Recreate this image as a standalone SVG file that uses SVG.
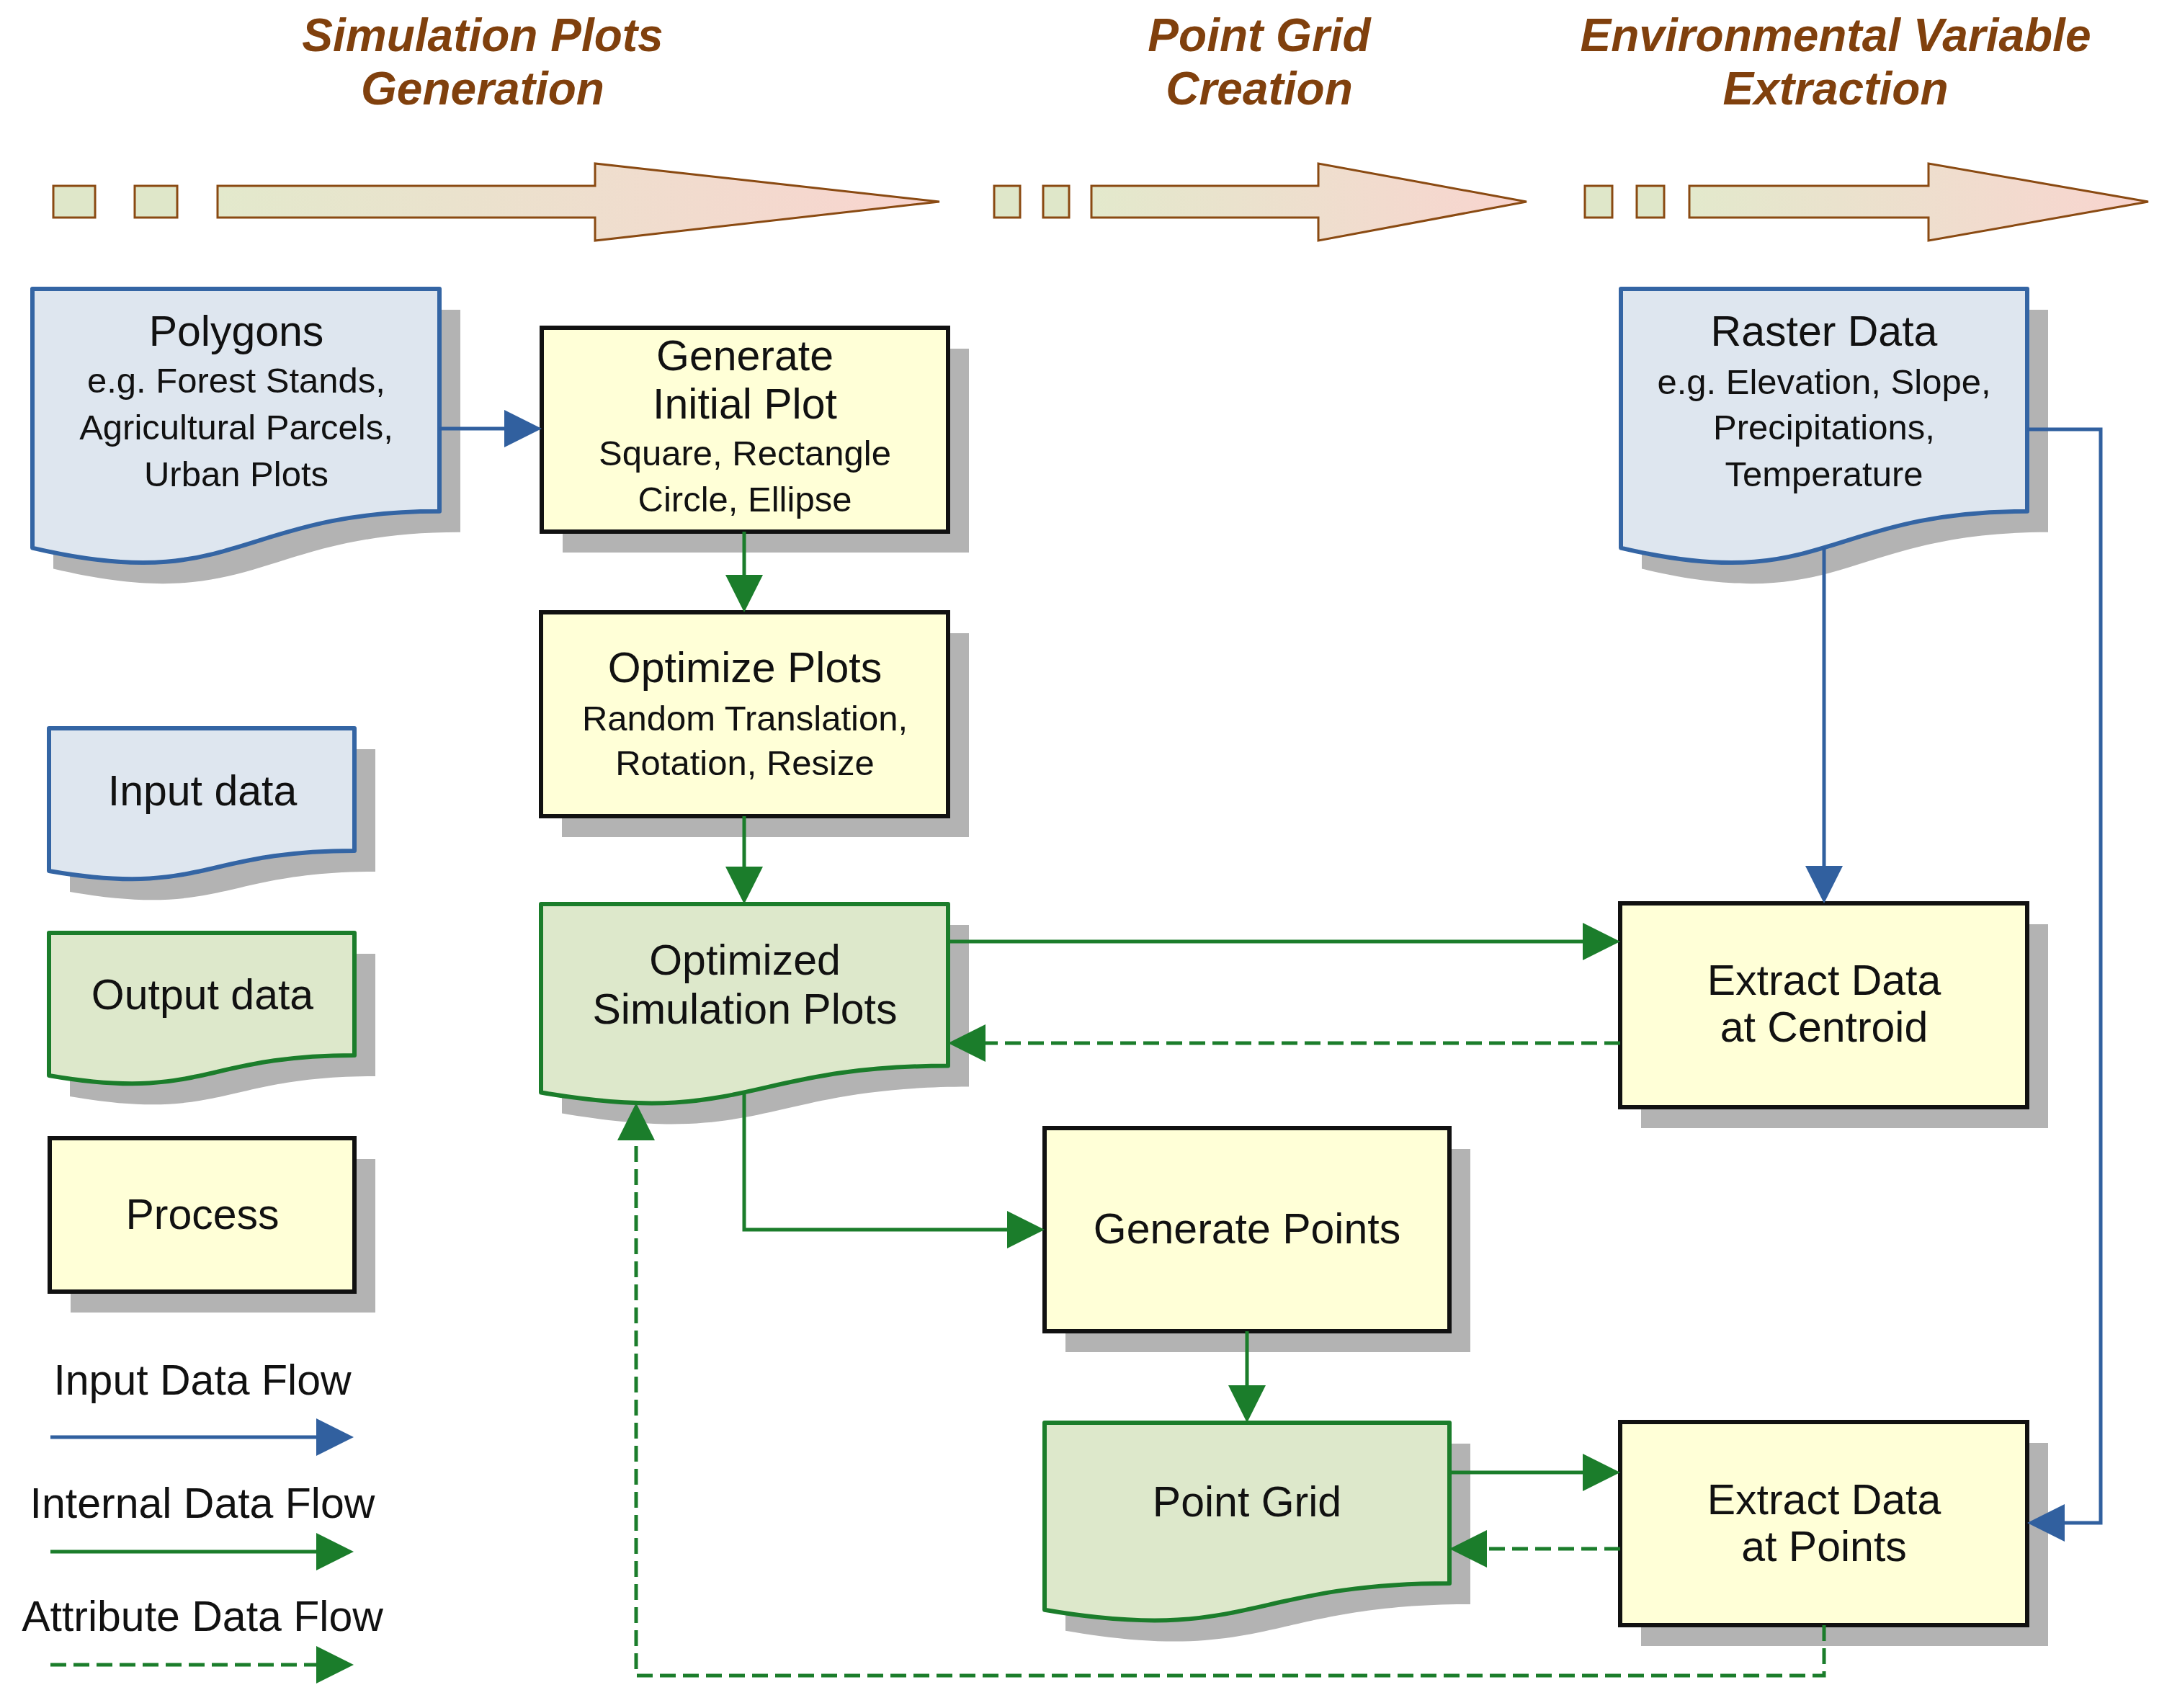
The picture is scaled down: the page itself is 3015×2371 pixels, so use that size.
<svg xmlns="http://www.w3.org/2000/svg" width="3015" height="2371" viewBox="0 0 3015 2371">
<style>
.title{font-family:"Liberation Sans",Arial,sans-serif;font-weight:bold;font-style:italic;font-size:64px;fill:#80400d;text-anchor:middle}
.main{font-family:"Liberation Sans",Arial,sans-serif;font-size:59px;fill:#111;text-anchor:middle}
.sub{font-family:"Liberation Sans",Arial,sans-serif;font-size:49px;fill:#111;text-anchor:middle}
.shadow{fill:#b3b3b3}
.proc{fill:#ffffd7;stroke:#111;stroke-width:6}
.indoc{fill:#dee6ef;stroke:#3465a4;stroke-width:6;stroke-linejoin:round}
.outdoc{fill:#dde8cb;stroke:#1b7d2b;stroke-width:6;stroke-linejoin:round}
.sq{fill:#dfe7c9;stroke:#8a4a12;stroke-width:3}
.big{fill:url(#phase);stroke:#8a4a12;stroke-width:3;stroke-linejoin:miter}
.blue{fill:none;stroke:#31609f;stroke-width:5;marker-end:url(#ahb)}
.green{fill:none;stroke:#1b7d2b;stroke-width:5;marker-end:url(#ahg)}
.dash{fill:none;stroke:#1b7d2b;stroke-width:5;stroke-dasharray:22 10;marker-end:url(#ahg)}
</style>
<defs>
<linearGradient id="phase" x1="0" y1="0" x2="1" y2="0">
<stop offset="0" stop-color="#e3e9cc"/>
<stop offset="1" stop-color="#f9d4cf"/>
</linearGradient>
<marker id="ahb" markerUnits="userSpaceOnUse" markerWidth="52" markerHeight="52" viewBox="0 0 52 52" refX="0" refY="26" orient="auto">
<path d="M0,0 L52,26 L0,52 Z" fill="#31609f"/>
</marker>
<marker id="ahg" markerUnits="userSpaceOnUse" markerWidth="52" markerHeight="52" viewBox="0 0 52 52" refX="0" refY="26" orient="auto">
<path d="M0,0 L52,26 L0,52 Z" fill="#1b7d2b"/>
</marker>
</defs>
<rect width="3015" height="2371" fill="#fff"/>

<g id="phases">
<text class="title" x="670" y="71">Simulation Plots</text>
<text class="title" x="670" y="145">Generation</text>
<rect class="sq" x="74" y="258" width="58" height="44"/>
<rect class="sq" x="187" y="258" width="59" height="44"/>
<polygon class="big" points="302,258 826,258 826,227 1304,280 826,334 826,302 302,302"/>
<text class="title" x="1748" y="71">Point Grid</text>
<text class="title" x="1748" y="145">Creation</text>
<rect class="sq" x="1380" y="258" width="36" height="44"/>
<rect class="sq" x="1448" y="258" width="36" height="44"/>
<polygon class="big" points="1515,258 1830,258 1830,227 2119,280 1830,334 1830,302 1515,302"/>
<text class="title" x="2548" y="71">Environmental Variable</text>
<text class="title" x="2548" y="145">Extraction</text>
<rect class="sq" x="2200" y="258" width="38" height="44"/>
<rect class="sq" x="2272" y="258" width="38" height="44"/>
<polygon class="big" points="2345,258 2677,258 2677,227 2982,280 2677,334 2677,302 2345,302"/>
</g>

<g id="polygons">
<path class="shadow" transform="translate(29,29)" d="M45,401 H610 V709.8 C327.5,709.8 327.5,827.4 45,760.6 Z"/>
<path class="indoc" d="M45,401 H610 V709.8 C327.5,709.8 327.5,827.4 45,760.6 Z"/>
<text class="main" x="328" y="480">Polygons</text>
<text class="sub" x="328" y="545">e.g. Forest Stands,</text>
<text class="sub" x="328" y="610">Agricultural Parcels,</text>
<text class="sub" x="328" y="675">Urban Plots</text>
</g>

<g id="generate-initial-plot">
<rect class="shadow" x="781" y="484" width="564" height="283"/>
<rect class="proc" x="752" y="455" width="564" height="283"/>
<text class="main" x="1034" y="514">Generate</text>
<text class="main" x="1034" y="581">Initial Plot</text>
<text class="sub" x="1034" y="646">Square, Rectangle</text>
<text class="sub" x="1034" y="710">Circle, Ellipse</text>
</g>

<g id="optimize-plots">
<rect class="shadow" x="780" y="879" width="565" height="283"/>
<rect class="proc" x="751" y="850" width="565" height="283"/>
<text class="main" x="1034" y="947">Optimize Plots</text>
<text class="sub" x="1034" y="1014">Random Translation,</text>
<text class="sub" x="1034" y="1076">Rotation, Resize</text>
</g>

<g id="optimized-simulation-plots">
<path class="shadow" transform="translate(29,29)" d="M751,1255 H1316 V1479.6 C1033.5,1479.6 1033.5,1565.1 751,1516.5 Z"/>
<path class="outdoc" d="M751,1255 H1316 V1479.6 C1033.5,1479.6 1033.5,1565.1 751,1516.5 Z"/>
<text class="main" x="1034" y="1353">Optimized</text>
<text class="main" x="1034" y="1421">Simulation Plots</text>
</g>

<g id="generate-points">
<rect class="shadow" x="1479" y="1595" width="562" height="282"/>
<rect class="proc" x="1450" y="1566" width="562" height="282"/>
<text class="main" x="1731" y="1726">Generate Points</text>
</g>

<g id="point-grid">
<path class="shadow" transform="translate(29,29)" d="M1450,1975 H2012 V2198 C1731,2198 1731,2282.9 1450,2234.7 Z"/>
<path class="outdoc" d="M1450,1975 H2012 V2198 C1731,2198 1731,2282.9 1450,2234.7 Z"/>
<text class="main" x="1731" y="2105">Point Grid</text>
</g>

<g id="raster-data">
<path class="shadow" transform="translate(29,29)" d="M2250,401 H2814 V709.8 C2532,709.8 2532,827.4 2250,760.6 Z"/>
<path class="indoc" d="M2250,401 H2814 V709.8 C2532,709.8 2532,827.4 2250,760.6 Z"/>
<text class="main" x="2532" y="480">Raster Data</text>
<text class="sub" x="2532" y="547">e.g. Elevation, Slope,</text>
<text class="sub" x="2532" y="610">Precipitations,</text>
<text class="sub" x="2532" y="675">Temperature</text>
</g>

<g id="extract-centroid">
<rect class="shadow" x="2278" y="1283" width="565" height="283"/>
<rect class="proc" x="2249" y="1254" width="565" height="283"/>
<text class="main" x="2532" y="1381">Extract Data</text>
<text class="main" x="2532" y="1446">at Centroid</text>
</g>

<g id="extract-points">
<rect class="shadow" x="2278" y="2003" width="565" height="282"/>
<rect class="proc" x="2249" y="1974" width="565" height="282"/>
<text class="main" x="2532" y="2102">Extract Data</text>
<text class="main" x="2532" y="2167">at Points</text>
</g>

<g id="legend">
<g id="legend-input">
<path class="shadow" transform="translate(29,29)" d="M68,1011 H492 V1181 C280,1181 280,1245.8 68,1209 Z"/>
<path class="indoc" d="M68,1011 H492 V1181 C280,1181 280,1245.8 68,1209 Z"/>
<text class="main" x="281" y="1118">Input data</text>
</g>
<g id="legend-output">
<path class="shadow" transform="translate(29,29)" d="M68,1295 H492 V1465 C280,1465 280,1529.8 68,1493 Z"/>
<path class="outdoc" d="M68,1295 H492 V1465 C280,1465 280,1529.8 68,1493 Z"/>
<text class="main" x="281" y="1401">Output data</text>
</g>
<g id="legend-process">
<rect class="shadow" x="98" y="1609" width="423" height="213"/>
<rect class="proc" x="69" y="1580" width="423" height="213"/>
<text class="main" x="281" y="1706">Process</text>
</g>
<g id="legend-flows">
<text class="main" x="281" y="1936">Input Data Flow</text>
<path class="blue" d="M70,1995 H439"/>
<text class="main" x="281" y="2107">Internal Data Flow</text>
<path class="green" d="M70,2154 H439"/>
<text class="main" x="281" y="2264">Attribute Data Flow</text>
<path class="dash" d="M70,2311 H439"/>
</g>
</g>

<g id="connectors">
<path class="blue" d="M610,595 H700"/>
<path class="green" d="M1033,738 V798"/>
<path class="green" d="M1033,1133 V1203"/>
<path class="green" d="M1316,1307 H2197"/>
<path class="dash" d="M2249,1448 H1368"/>
<path class="green" d="M1033,1516 V1707 H1398"/>
<path class="green" d="M1731,1848 V1923"/>
<path class="green" d="M2012,2044 H2197"/>
<path class="dash" d="M2249,2150 H2064"/>
<path class="dash" d="M2532,2256 V2326 H883 V1583"/>
<path class="blue" d="M2532,760 V1202"/>
<path class="blue" d="M2814,596 H2916 V2114 H2866"/>
</g>
</svg>
